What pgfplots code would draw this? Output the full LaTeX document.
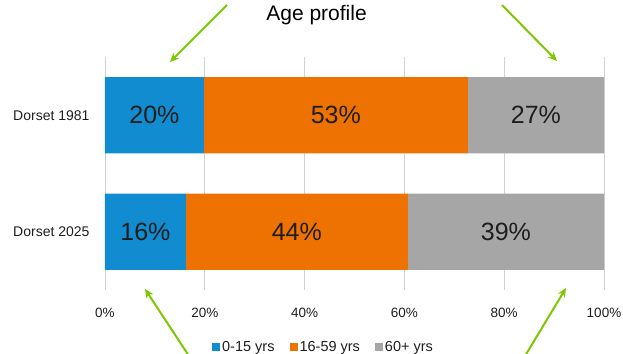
\documentclass[border=0pt]{standalone}
\usepackage{pgfplots}
\pgfplotsset{compat=1.18}
\usepackage{fontspec}
\setmainfont{Liberation Sans}
\usetikzlibrary{arrows.meta}
\definecolor{cblue}{RGB}{18,140,208}
\definecolor{corange}{RGB}{237,114,2}
\definecolor{cgrey}{RGB}{166,166,166}
\definecolor{cgreen}{RGB}{125,200,0}
\definecolor{cgrid}{RGB}{210,210,210}
\definecolor{ctext}{RGB}{30,30,30}
\begin{document}
\begin{tikzpicture}
\useasboundingbox (-105pt,-63pt) rectangle (518pt,290pt);
\begin{axis}[
  at={(0pt,0pt)}, anchor=south west,
  scale only axis, width=499pt, height=233pt,
  xbar stacked, bar width=0.655,
  xmin=0, xmax=100, ymin=-0.5, ymax=1.5,
  xtick={0,20,40,60,80,100},
  xticklabel={\pgfmathprintnumber{\tick}\%},
  /pgf/number format/assume math mode=true,
  ytick={0,1}, yticklabels={Dorset 2025,Dorset 1981},
  major tick length=0pt,
  axis line style={draw=none},
  xmajorgrids, grid style={cgrid, line width=0.8pt},
  tick label style={text=ctext},
  xticklabel style={yshift=-15pt, font=\fontsize{13.5}{16}\selectfont},
  yticklabel style={xshift=-12pt, font=\fontsize{14}{16}\selectfont},
  title={Age profile},
  title style={at={(0.424,1.129)}, anchor=base, font=\fontsize{21}{25}\selectfont, text=black},
  point meta=explicit symbolic,
  nodes near coords,
  every node near coord/.append style={anchor=center, font=\fontsize{25}{30}\selectfont, text=ctext},
  legend columns=3,
  legend style={at={(0.438,-0.245)}, anchor=center, draw=none, fill=none,
    font=\fontsize{14.5}{16}\selectfont, text=ctext,
    /tikz/every even column/.append style={column sep=13pt}},
  legend image code/.code={\fill[#1] (1pt,-4pt) rectangle (9pt,4pt);},
]
\addplot[fill=cblue, draw=none] coordinates {(16.2,0)[16\%] (19.8,1)[20\%]};
\addplot[fill=corange, draw=none] coordinates {(44.5,0)[44\%] (52.9,1)[53\%]};
\addplot[fill=cgrey, draw=none] coordinates {(39.3,0)[39\%] (27.3,1)[27\%]};
\legend{0-15 yrs, 16-59 yrs, 60+ yrs}
\end{axis}
\begin{scope}[cgreen, line width=2pt, -{Stealth[length=9pt,width=8pt]}]
\draw (122pt,285pt) -- (65pt,228pt);
\draw (397pt,285pt) -- (452pt,229pt);
\draw (84pt,-66pt) -- (40pt,1pt);
\draw (420pt,-66pt) -- (461pt,2pt);
\end{scope}
\end{tikzpicture}
\end{document}
